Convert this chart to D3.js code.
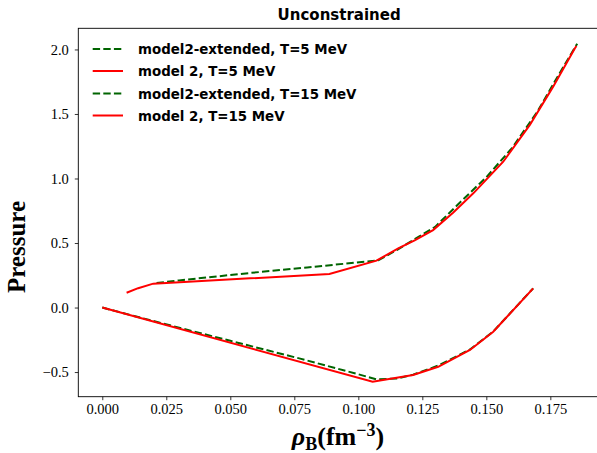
<!DOCTYPE html>
<html>
<head>
<meta charset="utf-8">
<script src="https://cdn.jsdelivr.net/npm/d3@7"></script>
<style>
body { margin: 0; background: #fff; }
</style>
</head>
<body>
<div id="chart"></div>
<script>
// T = 5 MeV branch (lower curve)
const rho_ext_t5 = [0, 0.02, 0.05, 0.0773, 0.1, 0.1071, 0.115, 0.1214, 0.1312, 0.1436, 0.1527, 0.1683];
const p_ext_t5   = [0, -0.105, -0.258, -0.396, -0.517, -0.557, -0.55, -0.52, -0.45, -0.325, -0.186, 0.149];
const rho_m2_t5  = [0, 0.1056, 0.1214, 0.1312, 0.1436, 0.1527, 0.1683];
const p_m2_t5    = [0, -0.575, -0.523, -0.459, -0.329, -0.188, 0.149];

// T = 15 MeV branch (upper curve)
const rho_ext_t15 = [0.0212, 0.03, 0.0577, 0.08, 0.1078, 0.115, 0.122, 0.13, 0.14, 0.15, 0.16, 0.17, 0.178, 0.1855];
const p_ext_t15   = [0.19, 0.21, 0.268, 0.31, 0.366, 0.445, 0.53, 0.625, 0.82, 1.01, 1.235, 1.52, 1.795, 2.045];
const rho_m2_t15  = [0.0095, 0.014, 0.0199, 0.0577, 0.0887, 0.1071, 0.1156, 0.122, 0.1292, 0.137, 0.1449, 0.1566, 0.167, 0.1761, 0.1846, 0.1852];
const p_m2_t15    = [0.115, 0.15, 0.185, 0.226, 0.26, 0.363, 0.459, 0.52, 0.6, 0.735, 0.885, 1.13, 1.415, 1.712, 2.009, 2.027];

const x_ticks = [0, 0.025, 0.05, 0.075, 0.1, 0.125, 0.15, 0.175];
const y_ticks = [-0.5, 0, 0.5, 1.0, 1.5, 2.0];
const legend_labels = ["model2-extended, T=5 MeV", "model 2, T=5 MeV",
                       "model2-extended, T=15 MeV", "model 2, T=15 MeV"];

function zip(xs, ys) {
    return xs.map(function(x, i) { return [x, ys[i]]; });
}

const series = [
    {label: legend_labels[0], pts: zip(rho_ext_t5, p_ext_t5), color: "#006400", dash: "7.4,3.2"},
    {label: legend_labels[1], pts: zip(rho_m2_t5, p_m2_t5), color: "#ff0000", dash: null},
    {label: legend_labels[2], pts: zip(rho_ext_t15, p_ext_t15), color: "#006400", dash: "7.4,3.2"},
    {label: legend_labels[3], pts: zip(rho_m2_t15, p_m2_t15), color: "#ff0000", dash: null}
];

function render_chart() {
    const width = 597, height = 453;
    const left = 78.3, right = 600, top = 28.3, bottom = 396.7;

    let svg = d3.select("#chart")
        .append("svg")
        .attr("width", width)
        .attr("height", height);

    let x = d3.scaleLinear().domain([-0.00937, 0.1944]).range([left, right]);
    let y = d3.scaleLinear().domain([-0.691, 2.164]).range([bottom, top]);

    // curves
    let line = d3.line()
        .x(function(d) { return x(d[0]); })
        .y(function(d) { return y(d[1]); });

    svg.append("g").selectAll("path")
        .data(series)
        .enter()
        .append("path")
        .attr("fill", "none")
        .attr("stroke", function(d) { return d.color; })
        .attr("stroke-width", 2)
        .attr("stroke-dasharray", function(d) { return d.dash; })
        .attr("d", function(d) { return line(d.pts); });

    // axes
    let xAxis = svg.append("g")
        .attr("transform", "translate(0," + bottom + ")")
        .call(d3.axisBottom(x).tickValues(x_ticks).tickFormat(d3.format(".3f"))
              .tickSizeInner(3.5).tickSizeOuter(0).tickPadding(4));
    let yAxis = svg.append("g")
        .attr("transform", "translate(" + left + ",0)")
        .call(d3.axisLeft(y).tickValues(y_ticks).tickFormat(d3.format(".1f"))
              .tickSizeInner(3.5).tickSizeOuter(0).tickPadding(6));

    [xAxis, yAxis].forEach(function(a) {
        a.select(".domain").remove();
        a.selectAll("line").attr("stroke", "#000").attr("stroke-width", 0.8);
        a.selectAll("text")
            .attr("fill", "#000")
            .style("font-family", "'Liberation Serif', 'DejaVu Serif', serif")
            .style("font-size", "14.5px");
    });

    // spines
    svg.append("rect")
        .attr("x", left).attr("y", top)
        .attr("width", right - left).attr("height", bottom - top)
        .attr("fill", "none")
        .attr("stroke", "#000")
        .attr("stroke-width", 0.9);

    // title
    svg.append("text")
        .attr("x", (left + right) / 2)
        .attr("y", 20)
        .attr("text-anchor", "middle")
        .style("font-family", "'DejaVu Sans', sans-serif")
        .style("font-weight", "bold")
        .style("font-size", "15px")
        .text("Unconstrained");

    // y label
    svg.append("text")
        .attr("transform", "translate(25,247) rotate(-90)")
        .attr("text-anchor", "middle")
        .style("font-family", "'Liberation Serif', serif")
        .style("font-weight", "bold")
        .style("font-size", "25px")
        .text("Pressure");

    // x label
    let xl = svg.append("text")
        .attr("x", 338)
        .attr("y", 445)
        .attr("text-anchor", "middle")
        .style("font-family", "'Liberation Serif', serif")
        .style("font-weight", "bold")
        .style("font-size", "26px");
    xl.append("tspan").style("font-style", "italic").text("ρ");
    xl.append("tspan").attr("dy", 5).style("font-size", "18px").text("B");
    xl.append("tspan").attr("dy", -5).text("(fm");
    xl.append("tspan").attr("dy", -9.5).style("font-size", "18px").text("−3");
    xl.append("tspan").attr("dy", 9.5).text(")");

    // legend
    const leg_y = [49, 71, 93.5, 115.5];
    let leg = svg.append("g").selectAll("g")
        .data(series)
        .enter()
        .append("g")
        .attr("transform", function(d, i) { return "translate(0," + leg_y[i] + ")"; });
    leg.append("line")
        .attr("x1", 92.7).attr("x2", 123)
        .attr("stroke", function(d) { return d.color; })
        .attr("stroke-width", 2)
        .attr("stroke-dasharray", function(d) { return d.dash; });
    leg.append("text")
        .attr("x", 138)
        .attr("y", 5)
        .style("font-family", "'DejaVu Sans', sans-serif")
        .style("font-weight", "bold")
        .style("font-size", "13.4px")
        .text(function(d) { return d.label; });
}

render_chart();
</script>
</body>
</html>
